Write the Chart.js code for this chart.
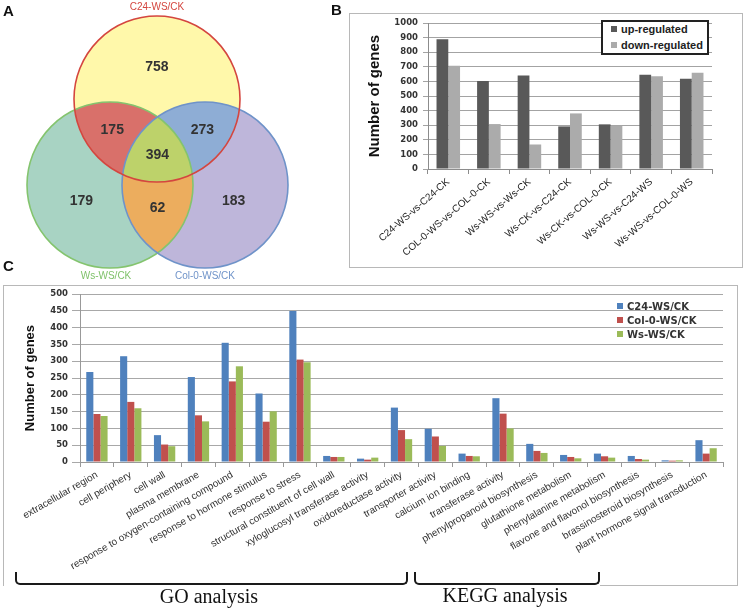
<!DOCTYPE html>
<html lang="en">
<head>
<meta charset="UTF-8" />
<title>Differentially expressed genes</title>
<script src="https://cdn.jsdelivr.net/npm/chart.js"></script>
<style>
  body { margin: 0; background: #fff; }
  .page { position: relative; width: 744px; height: 608px; overflow: hidden; font-family: "Liberation Sans", Arial, sans-serif; }
  .page canvas { position: absolute; }
  .tag { position: absolute; font-weight: bold; font-size: 15px; line-height: 15px; color: #111; }
  #boxB { position: absolute; left: 349px; top: 13px; width: 392px; height: 253px; border: 1px solid #b8b8b8; }
  #boxC { position: absolute; left: 3px; top: 285px; width: 733px; height: 300px; border: 1px solid #b8b8b8; border-bottom: none; }
  #boxCbottom { position: absolute; left: 600px; top: 585px; width: 137px; border-top: 1px solid #b8b8b8; }
  #legendB { position: absolute; left: 601px; top: 20px; width: 108px; height: 35px; box-sizing: border-box; border: 2px solid #222; background: #fff; }
  .lg { position: absolute; white-space: nowrap; color: #222; font-weight: bold; }
  .lg i { display: inline-block; width: 6px; height: 6px; margin-right: 4px; vertical-align: 1px; }
  .lgB { font-size: 11px; line-height: 12px; }
  .lgC { font-family: "DejaVu Sans", Verdana, sans-serif; font-size: 10px; line-height: 12px; color: #333; }
  .bracket { position: absolute; box-sizing: border-box; border: 2px solid #1a1a1a; border-top: none; border-radius: 0 0 5px 5px; }
  .group { position: absolute; font-family: "Liberation Serif", "Times New Roman", serif; font-size: 20px; line-height: 20px; color: #111; text-align: center; }
</style>
</head>
<body>
<div class="page">
  <canvas id="venn" width="300" height="285" style="left:0;top:0"></canvas>
  <div class="tag" style="left:3px;top:3px">A</div>
  <div class="tag" style="left:331px;top:2px">B</div>
  <div class="tag" style="left:3px;top:258px">C</div>

  <div id="boxB"></div>
  <canvas id="chartB" width="393" height="254" style="left:349px;top:13px"></canvas>
  <div id="legendB"></div>
  <div class="lg lgB" style="left:611px;top:23px"><i style="background:#595959"></i>up-regulated</div>
  <div class="lg lgB" style="left:611px;top:39px"><i style="background:#ababab"></i>down-regulated</div>

  <div id="boxC"></div>
  <div id="boxCbottom"></div>
  <canvas id="chartC" width="734" height="300" style="left:3px;top:285px"></canvas>
  <div class="lg lgC" style="left:617px;top:301px"><i style="background:#4f81bd"></i>C24-WS/CK</div>
  <div class="lg lgC" style="left:617px;top:315px"><i style="background:#c0504d"></i>Col-0-WS/CK</div>
  <div class="lg lgC" style="left:617px;top:329px"><i style="background:#9bbb59"></i>Ws-WS/CK</div>

  <div class="bracket" style="left:15px;top:572px;width:393px;height:13px"></div>
  <div class="bracket" style="left:414px;top:572px;width:186px;height:13px"></div>
  <div class="group" style="left:129px;top:586px;width:160px">GO analysis</div>
  <div class="group" style="left:425px;top:585px;width:160px">KEGG analysis</div>
</div>

<script>
  // ---- A: Venn diagram ----
  const vennSets = ["C24-WS/CK", "Ws-WS/CK", "Col-0-WS/CK"];
  // which sets each region belongs to (C24, Ws, Col-0)
  const vennRegions = [[1,0,0], [0,1,0], [0,0,1], [1,1,0], [1,0,1], [0,1,1], [1,1,1]];
  const vennCounts = [758, 179, 183, 175, 273, 62, 394];

  // ---- B: up / down regulated ----
  const bCategories = ["C24-WS-vs-C24-CK", "COL-0-WS-vs-COL-0-CK", "Ws-WS-vs-Ws-CK", "Ws-CK-vs-C24-CK",
                       "Ws-CK-vs-COL-0-CK", "Ws-WS-vs-C24-WS", "Ws-WS-vs-COL-0-WS"];
  const bUp = [890, 603, 640, 292, 306, 646, 618];
  const bDown = [707, 308, 168, 381, 296, 636, 660];

  // ---- C: GO / KEGG enrichment ----
  const cCategories = ["extracellular region", "cell periphery", "cell wall", "plasma membrane",
    "response to oxygen-containing compound", "response to hormone stimulus", "response to stress",
    "structural constituent of cell wall", "xyloglucosyl transferase activity", "oxidoreductase activity",
    "transporter activity", "calcium ion binding", "transferase activity", "phenylpropanoid biosynthesis",
    "glutathione metabolism", "phenylalanine metabolism", "flavone and flavonol biosynthesis",
    "brassinosteroid biosynthesis", "plant hormone signal transduction"];
  const cC24  = [268, 315, 80, 253, 355, 204, 450, 18, 10, 162, 99, 25, 190, 54, 21, 25, 18, 5, 65];
  const cCol0 = [143, 179, 52, 139, 240, 120, 305, 15, 7, 95, 76, 18, 144, 33, 15, 17, 9, 4, 25];
  const cWs   = [137, 160, 47, 121, 285, 151, 297, 15, 13, 68, 48, 17, 100, 27, 11, 13, 7, 5, 41];

  Chart.defaults.font.family = '"Liberation Sans", Arial, sans-serif';
  const tickFont = '"DejaVu Sans", Verdana, sans-serif';
  const titleFont = '"Liberation Sans Narrow", "Liberation Sans", Arial, sans-serif';

  // circle layout, in the venn chart's own units
  const vennCircles = [{x: 157, y: 99, r: 83}, {x: 110, y: 185, r: 83}, {x: 205, y: 185, r: 83}];
  const vennFill = ["#fff8aa", "#a8d3c3", "#beb6da", "#d9706a", "#8eadd5", "#ecad5e", "#bdd26a"];
  const vennStroke = ["#d4463f", "#84c46e", "#6f93c9"];
  const vennText = ["#d4463f", "#7fc26a", "#6f93c9"];

  function inCircle(c, x, y) {
    return (x - c.x) * (x - c.x) + (y - c.y) * (y - c.y) < c.r * c.r;
  }
  function regionCentre(mask) {
    let sx = 0, sy = 0, n = 0;
    for (let x = 0; x <= 300; x++) {
      for (let y = 0; y <= 285; y++) {
        if (vennCircles.every((c, k) => inCircle(c, x, y) == !!mask[k])) { sx += x; sy += y; n++; }
      }
    }
    return {x: sx / n, y: sy / n};
  }

  const vennPlugin = {
    id: "venn",
    afterDatasetsDraw(chart) {
      const ctx = chart.ctx;
      const xs = chart.scales.x, ys = chart.scales.y;
      const k = xs.getPixelForValue(1) - xs.getPixelForValue(0);
      const circle = c => {
        ctx.beginPath();
        ctx.arc(xs.getPixelForValue(c.x), ys.getPixelForValue(c.y), c.r * k, 0, Math.PI * 2);
      };
      // fill every region, singles first, then overlaps on top
      vennRegions.forEach((mask, i) => {
        ctx.save();
        mask.forEach((on, j) => { if (on) { circle(vennCircles[j]); ctx.clip(); } });
        ctx.fillStyle = vennFill[i];
        ctx.fillRect(0, 0, chart.width, chart.height);
        ctx.restore();
      });
      ctx.save();
      ctx.lineWidth = 1.6;
      [1, 2, 0].forEach(j => {
        circle(vennCircles[j]);
        ctx.strokeStyle = vennStroke[j];
        ctx.stroke();
      });
      // counts
      ctx.fillStyle = "#333";
      ctx.font = 'bold 14px "Liberation Sans", Arial, sans-serif';
      ctx.textAlign = "center";
      ctx.textBaseline = "middle";
      vennRegions.forEach((mask, i) => {
        const p = regionCentre(mask);
        ctx.fillText(vennCounts[i], xs.getPixelForValue(p.x), ys.getPixelForValue(p.y));
      });
      // set names
      ctx.font = '10px "Liberation Sans", Arial, sans-serif';
      const a = vennCircles[0], b = vennCircles[1], c = vennCircles[2];
      ctx.fillStyle = vennText[0];
      ctx.fillText(vennSets[0], xs.getPixelForValue(a.x), ys.getPixelForValue(a.y - a.r - 9));
      ctx.fillStyle = vennText[1];
      ctx.fillText(vennSets[1], xs.getPixelForValue(b.x - 4), ys.getPixelForValue(b.y + b.r + 8));
      ctx.fillStyle = vennText[2];
      ctx.fillText(vennSets[2], xs.getPixelForValue(c.x), ys.getPixelForValue(c.y + c.r + 8));
      ctx.restore();
    }
  };

  new Chart(document.getElementById("venn"), {
    type: "scatter",
    data: { datasets: [{ data: vennCircles.map(c => ({x: c.x, y: c.y})), pointRadius: 0 }] },
    options: {
      responsive: false, animation: false, devicePixelRatio: 1, events: [],
      layout: { padding: 0, autoPadding: false },
      plugins: { legend: { display: false }, tooltip: { enabled: false } },
      scales: {
        x: { type: "linear", min: 0, max: 300, display: false },
        y: { type: "linear", min: 0, max: 285, reverse: true, display: false }
      }
    },
    plugins: [vennPlugin]
  });

  new Chart(document.getElementById("chartB"), {
    type: "bar",
    data: {
      labels: bCategories,
      datasets: [
        { label: "up-regulated", data: bUp, backgroundColor: "#595959" },
        { label: "down-regulated", data: bDown, backgroundColor: "#ababab" }
      ]
    },
    options: {
      responsive: false, animation: false, devicePixelRatio: 1, events: [],
      datasets: { bar: { barPercentage: 1, categoryPercentage: 0.58 } },
      layout: { padding: { top: 10, right: 30, left: 0, bottom: 0 } },
      plugins: { legend: { display: false }, tooltip: { enabled: false } },
      scales: {
        x: {
          grid: { drawOnChartArea: false, color: "#8c8c8c", tickLength: 5 },
          border: { color: "#8c8c8c" },
          ticks: { color: "#222", font: { size: 10 }, minRotation: 41, maxRotation: 41, autoSkip: false, padding: 2 },
          afterFit(s) { s.height = 98; }
        },
        y: {
          min: 0, max: 1000,
          ticks: { stepSize: 100, color: "#333", font: { size: 8.5, weight: "bold", family: tickFont }, padding: 5,
                   callback: v => String(v) },
          grid: { color: "#a3a3a3", tickLength: 5 },
          border: { color: "#8c8c8c" },
          title: { display: true, text: "Number of genes", color: "#111",
                   font: { size: 15, weight: "bold", family: titleFont }, padding: { top: 17, bottom: 0 } },
          afterFit(s) { s.width = 79; }
        }
      }
    }
  });

  new Chart(document.getElementById("chartC"), {
    type: "bar",
    data: {
      labels: cCategories,
      datasets: [
        { label: "C24-WS/CK", data: cC24, backgroundColor: "#4f81bd" },
        { label: "Col-0-WS/CK", data: cCol0, backgroundColor: "#c0504d" },
        { label: "Ws-WS/CK", data: cWs, backgroundColor: "#9bbb59" }
      ]
    },
    options: {
      responsive: false, animation: false, devicePixelRatio: 1, events: [],
      datasets: { bar: { barPercentage: 1, categoryPercentage: 0.63 } },
      layout: { padding: { top: 7, right: 14, left: 0, bottom: 0 } },
      plugins: { legend: { display: false }, tooltip: { enabled: false } },
      scales: {
        x: {
          grid: { drawOnChartArea: false, color: "#999", tickLength: 5 },
          border: { color: "#999" },
          ticks: { color: "#333", font: { size: 10 }, minRotation: 30, maxRotation: 30, autoSkip: false, padding: 2 },
          afterFit(s) { s.height = 123; }
        },
        y: {
          min: 0, max: 500,
          ticks: { stepSize: 50, color: "#333", font: { size: 8.5, weight: "bold", family: tickFont }, padding: 4 },
          grid: { color: "#a8a8a8", tickLength: 8 },
          border: { color: "#999" },
          title: { display: true, text: "Number of genes", color: "#111",
                   font: { size: 13, weight: "bold", family: titleFont }, padding: { top: 20, bottom: 0 } },
          afterFit(s) { s.width = 77; }
        }
      }
    }
  });
</script>
</body>
</html>
